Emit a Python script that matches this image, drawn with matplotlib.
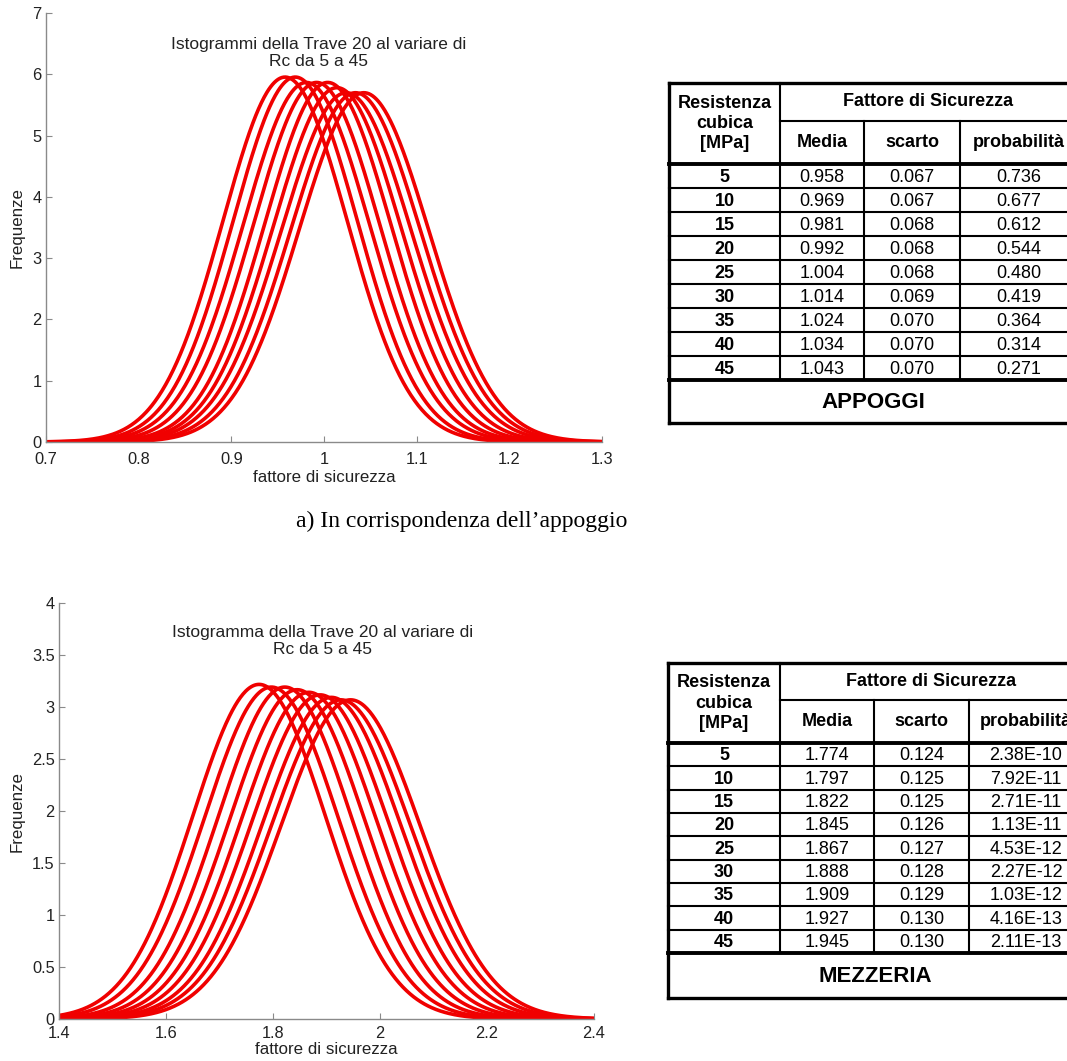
import numpy as np
import matplotlib.pyplot as plt
from matplotlib.ticker import FuncFormatter

rc = [5, 10, 15, 20, 25, 30, 35, 40, 45]
media_app = [0.958, 0.969, 0.981, 0.992, 1.004, 1.014, 1.024, 1.034, 1.043]
scarto_app = [0.067, 0.067, 0.068, 0.068, 0.068, 0.069, 0.070, 0.070, 0.070]
prob_app = [0.736, 0.677, 0.612, 0.544, 0.480, 0.419, 0.364, 0.314, 0.271]
media_mez = [1.774, 1.797, 1.822, 1.845, 1.867, 1.888, 1.909, 1.927, 1.945]
scarto_mez = [0.124, 0.125, 0.125, 0.126, 0.127, 0.128, 0.129, 0.130, 0.130]
prob_mez = [2.38e-10, 7.92e-11, 2.71e-11, 1.13e-11, 4.53e-12, 2.27e-12, 1.03e-12, 4.16e-13, 2.11e-13]

W, H = 1067, 1061
red = '#f00000'
axcol = '#8a8a8a'
txtcol = '#222222'
plt.rcParams['font.family'] = ['Liberation Sans', 'DejaVu Sans']

fig = plt.figure(figsize=(W / 100, H / 100), dpi=100)


def px_axes(l, t, r, b):
    return fig.add_axes([l / W, 1 - b / H, (r - l) / W, (b - t) / H])


def gauss(x, m, s):
    return np.exp(-0.5 * ((x - m) / s) ** 2) / (s * np.sqrt(2 * np.pi))


def hist_plot(ax, medie, scarti, xlim, xstep, ymax, ystep, title, tpos, ylab_x, xlab_y, xpad):
    x = np.linspace(xlim[0], xlim[1], 600)
    for m, s in zip(medie, scarti):
        ax.plot(x, gauss(x, m, s), color=red, lw=2.6, solid_capstyle='round')
    ax.set_xlim(xlim)
    ax.set_ylim(0, ymax)
    ax.set_xticks(np.arange(xlim[0], xlim[1] + 1e-9, xstep))
    ax.set_yticks(np.arange(0, ymax + 1e-9, ystep))
    fmt = FuncFormatter(lambda v, p: '%g' % round(v, 3))
    ax.xaxis.set_major_formatter(fmt)
    ax.yaxis.set_major_formatter(fmt)
    for s in ['top', 'right']:
        ax.spines[s].set_visible(False)
    for s in ['left', 'bottom']:
        ax.spines[s].set_color(axcol)
        ax.spines[s].set_linewidth(1.0)
    ax.tick_params(direction='in', length=4, color=axcol, labelsize=11.8, labelcolor=txtcol)
    ax.tick_params(axis='x', pad=xpad)
    ax.tick_params(axis='y', pad=3)
    ax.text(tpos[0], tpos[1], title, transform=ax.transAxes, ha='center', va='center',
            fontsize=12.5, color=txtcol, linespacing=1.15)
    ax.set_ylabel('Frequenze', fontsize=12.2, color=txtcol)
    ax.yaxis.set_label_coords(ylab_x, 0.5)
    ax.set_xlabel('fattore di sicurezza', fontsize=12.2, color=txtcol)
    ax.xaxis.set_label_coords(0.5, xlab_y)


ax1 = px_axes(46, 13, 602, 442)
hist_plot(ax1, media_app, scarto_app, (0.7, 1.3), 0.1, 7, 1,
          'Istogrammi della Trave 20 al variare di\nRc da 5 a 45', (0.491, 0.907), -0.038, -0.065, 7)

ax2 = px_axes(59, 603, 594, 1019)
hist_plot(ax2, media_mez, scarto_mez, (1.4, 2.4), 0.2, 4, 0.5,
          'Istogramma della Trave 20 al variare di\nRc da 5 a 45', (0.492, 0.909), -0.064, -0.056, 5)

# tabelle disegnate su un asse a tutta figura in pixel
tab = fig.add_axes([0, 0, 1, 1])
tab.set_xlim(0, W)
tab.set_ylim(H, 0)
tab.axis('off')
tab.patch.set_alpha(0)


def line(x0, y0, x1, y1, lw):
    tab.plot([x0, x1], [y0, y1], color='black', lw=lw, solid_capstyle='projecting')


def table(top, sub, hbot, dbot, bot, cols, medie, scarti, probs, pfmt, footer):
    left, c1, c2, c3, right = cols
    n = len(rc)
    rh = (dbot - hbot) / n
    thick, mid, thin = 2.4, 2.8, 1.5
    # bordi
    line(left, top, right, top, thick)
    line(left, bot, right, bot, thick)
    line(left, top, left, bot, thick)
    line(right, top, right, bot, thick)
    line(c1, sub, right, sub, thin)
    line(left, hbot, right, hbot, mid)
    line(left, dbot, right, dbot, mid)
    line(c1, top, c1, dbot, thin)
    line(c2, sub, c2, dbot, thin)
    line(c3, sub, c3, dbot, thin)
    for i in range(1, n):
        line(left, hbot + i * rh, right, hbot + i * rh, thin)
    fs = 13
    tab.text((left + c1) / 2, (top + hbot) / 2, 'Resistenza\ncubica\n[MPa]', ha='center', va='center',
             fontsize=fs, fontweight='bold', linespacing=1.25)
    tab.text((c1 + right) / 2, (top + sub) / 2, 'Fattore di Sicurezza', ha='center', va='center',
             fontsize=fs, fontweight='bold')
    for cx, lab in zip([(c1 + c2) / 2, (c2 + c3) / 2, (c3 + right) / 2], ['Media', 'scarto', 'probabilità']):
        tab.text(cx, (sub + hbot) / 2, lab, ha='center', va='center', fontsize=fs, fontweight='bold')
    for i in range(n):
        cy = hbot + (i + 0.5) * rh + 1
        tab.text((left + c1) / 2, cy, str(rc[i]), ha='center', va='center', fontsize=fs, fontweight='bold')
        tab.text((c1 + c2) / 2, cy, '%.3f' % medie[i], ha='center', va='center', fontsize=fs)
        tab.text((c2 + c3) / 2, cy, '%.3f' % scarti[i], ha='center', va='center', fontsize=fs)
        tab.text((c3 + right) / 2, cy, pfmt % probs[i], ha='center', va='center', fontsize=fs)
    tab.text((left + right) / 2, (dbot + bot) / 2 + 1, footer, ha='center', va='center',
             fontsize=16, fontweight='bold')


table(83, 121, 164, 380, 423, (669, 780, 864, 960, 1077), media_app, scarto_app, prob_app, '%.3f', 'APPOGGI')
table(663, 700, 743, 953, 998, (668, 780, 874, 969, 1083), media_mez, scarto_mez, prob_mez, '%.2E', 'MEZZERIA')

tab.text(462, 521, 'a) In corrispondenza dell\u2019appoggio', ha='center', va='center',
         fontsize=17, family=['Liberation Serif', 'DejaVu Serif'])

fig.savefig('out.png', dpi=100)
